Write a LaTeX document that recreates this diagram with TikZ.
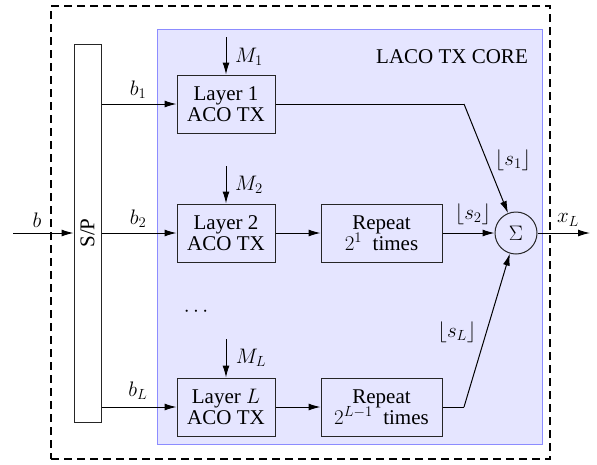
\documentclass[tikz,border=0pt]{standalone}
\usepackage{fix-cm}
\usepackage{fontspec}
\setmainfont{Liberation Serif}
\usetikzlibrary{arrows.meta}
\begin{document}
\begin{tikzpicture}[x=1pt,y=-1pt,
  font=\fontsize{21}{24}\selectfont,
  blk/.style={draw=black!85,line width=1pt,align=center,inner sep=0pt,minimum height=58pt},
  lay/.style={blk,minimum width=98pt},
  rep/.style={blk,minimum width=121pt},
  arr/.style={line width=1pt,-{Latex[length=12pt,width=7pt]}},
  ln/.style={line width=1pt}]
\useasboundingbox (0,0) rectangle (597,464);
\node[draw,dashed,line width=1.6pt,dash pattern=on 8pt off 5pt,minimum width=499pt,minimum height=453pt,inner sep=0pt] (outer) at (300.5,232.5) {};
\node[draw=blue!45,fill=blue!10,line width=0.8pt,minimum width=385pt,minimum height=415pt,inner sep=0pt] (core) at (349.5,236.5) {};
\node (title) at (452,57) {LACO TX CORE};
\node[draw=black!85,fill=white,line width=1pt,minimum width=27pt,minimum height=378pt,inner sep=0pt] (sp) at (87.5,233) {\rotatebox{90}{S/P}};
\node[lay] (l1) at (226,104) {Layer 1\\[-3pt]ACO TX};
\node[lay] (l2) at (226,233) {Layer 2\\[-3pt]ACO TX};
\node[lay] (ll) at (226,407) {Layer $L$\\[-3pt]ACO TX};
\node[rep] (r1) at (381.5,233) {Repeat\\[-3pt]$2^1$\ \ times};
\node[rep] (rl) at (381.5,407) {Repeat\\[-3pt]$2^{L-1}$\ \ times};
\node[draw=black!85,line width=1pt,circle,minimum size=42pt,inner sep=0pt] (sum) at (516,233) {$\Sigma$};
\node (dots) at (196,312) {$\cdots$};
\coordinate (in) at (13,233);
\coordinate (out) at (590,233);
\coordinate (m1) at (226,37);
\coordinate (m2) at (226,166);
\coordinate (ml) at (226,339);
\coordinate (k1) at (464,104);
\coordinate (kl) at (464,407);
\draw[arr] (in) -- (sp.west |- in);
\draw[arr] (sp.east |- l1) -- (l1);
\draw[arr] (sp.east |- l2) -- (l2);
\draw[arr] (sp.east |- ll) -- (ll);
\draw[arr] (m1) -- (l1);
\draw[arr] (m2) -- (l2);
\draw[arr] (ml) -- (ll);
\draw[arr] (l2) -- (r1);
\draw[arr] (ll) -- (rl);
\draw[arr] (r1) -- (sum);
\draw[ln] (l1) -- (k1);
\draw[arr] (k1) -- (sum);
\draw[ln] (rl) -- (kl);
\draw[arr] (kl) -- (sum);
\draw[arr] (sum) -- (out);
\node (lb) at (37,220) {$b$};
\node (lb1) at (138,90) {$b_1$};
\node (lb2) at (138,219) {$b_2$};
\node (lbl) at (138,391) {$b_L$};
\node (lm1) at (249,57) {$M_1$};
\node (lm2) at (249,185) {$M_2$};
\node (lml) at (251,358) {$M_L$};
\node (ls1) at (513,160) {$\lfloor s_1\rfloor$};
\node (ls2) at (473,214) {$\lfloor s_2\rfloor$};
\node (lsl) at (457,332) {$\lfloor s_L\rfloor$};
\node (lx) at (568,220) {$x_L$};
\end{tikzpicture}
\end{document}
